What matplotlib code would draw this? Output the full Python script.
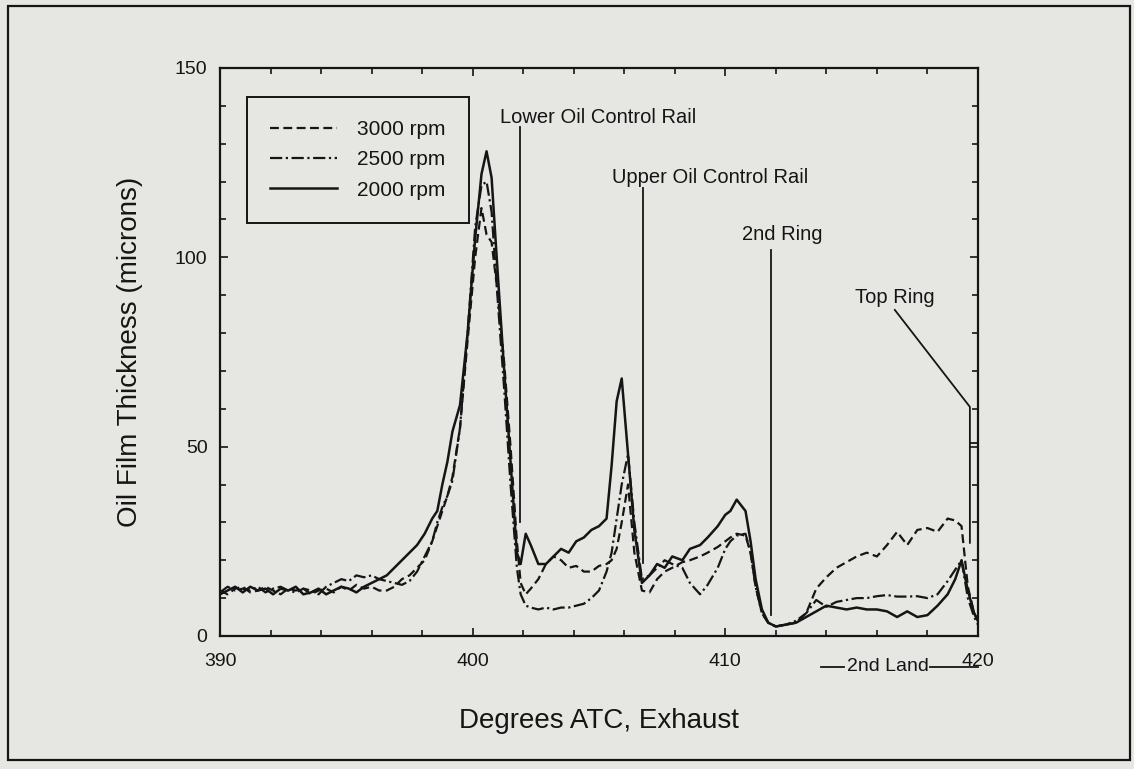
import matplotlib.pyplot as plt
from matplotlib.patches import Rectangle
from matplotlib.ticker import MultipleLocator

plt.rcParams['font.family'] = ['Liberation Sans', 'DejaVu Sans']

# crank angle grid (deg ATC) shared by the three traces
angle = [
    390.0, 390.3, 390.6, 390.9, 391.2, 391.5, 391.8, 392.1, 392.4, 392.7,
    393.0, 393.3, 393.6, 393.9, 394.2, 394.5, 394.8, 395.1, 395.4, 395.7,
    396.0, 396.3, 396.6, 396.9, 397.2, 397.5, 397.8, 398.1, 398.4, 398.6,
    398.8, 399.0, 399.2, 399.5, 399.8, 400.1, 400.35, 400.55, 400.75, 401.0,
    401.25, 401.5, 401.75, 401.9, 402.1, 402.3, 402.6, 402.9, 403.2, 403.5,
    403.8, 404.1, 404.4, 404.7, 405.0, 405.3, 405.5, 405.7, 405.9, 406.15,
    406.4, 406.7, 407.0, 407.3, 407.6, 407.9, 408.3, 408.6, 409.0, 409.3,
    409.7, 410.0, 410.2, 410.45, 410.8, 411.0, 411.2, 411.45, 411.7, 412.0,
    412.4, 412.8, 413.2, 413.6, 414.0, 414.4, 414.8, 415.2, 415.6, 416.0,
    416.4, 416.8, 417.2, 417.6, 418.0, 418.4, 418.8, 419.1, 419.35, 419.6,
    419.85, 420.0,
]

rpm_3000 = [
    12, 11, 12.5, 13, 11.5, 12, 13, 12, 11, 12.5,
    12, 12.5, 11, 12, 12.5, 11.5, 13, 12, 13.5, 12.5,
    13, 12, 12, 13, 15, 16, 18, 20, 25, 29,
    33, 37, 42, 55, 78, 100, 113, 106, 104, 90,
    72, 50, 25, 14, 11, 12.5, 15, 19, 21, 20,
    18, 18.5, 17, 17, 18.5, 19, 20, 23, 30, 40,
    22, 12, 11.5, 15, 17, 18, 19.5, 20, 21, 22,
    23.5, 25, 26, 27, 26.5, 22, 13, 6, 3.5, 2.5,
    3, 3.5, 6, 12.5, 15.5, 18, 19.5, 21, 22, 21,
    24, 27.5, 24, 28, 28.5, 27.5, 31, 30.5, 29, 13,
    6, 4,
]

rpm_2500 = [
    11.5, 13, 12, 12.5, 12, 13, 11.5, 12.5, 13, 12,
    11.5, 12.5, 12, 11, 13, 14, 15, 14.5, 16, 15.5,
    16, 15, 14.5, 14, 13.5, 14.5, 17, 21, 25, 30,
    34, 37, 41, 55, 80, 108, 119, 120, 112, 88,
    65, 40, 18, 11, 8, 7.5, 7, 7.5, 7, 7.5,
    7.5, 8, 8.5, 10, 12, 17, 22, 31, 40, 48,
    30, 15, 16, 18, 20, 19, 18, 14, 11, 13.5,
    18, 23, 25, 26.5, 27, 22, 13, 6, 3.5, 2.5,
    3, 4, 6, 9.5, 7.7, 9, 9.5, 10, 10, 10.5,
    10.8, 10.4, 10.4, 10.5, 10, 11, 14.5, 17.5, 20, 10,
    5, 3,
]

rpm_2000 = [
    11, 12, 13, 11.5, 13, 12, 12.5, 11, 12.5, 12,
    13, 11, 11.5, 12.5, 11, 12, 13, 12.5, 11.5, 13,
    14, 15, 16, 18, 20, 22, 24, 27, 31, 33,
    40, 46, 54, 61, 80, 105, 122, 128, 121, 95,
    70, 46, 22, 19, 27, 24, 19, 19, 21, 23,
    22, 25, 26, 28, 29, 31, 45, 62, 68, 48,
    28, 14, 16, 19, 18, 21, 20, 23, 24, 26,
    29, 32, 33, 36, 33, 25, 15, 7, 3.5, 2.5,
    3, 3.5, 5, 6.5, 8, 7.5, 7, 7.5, 7, 7,
    6.5, 5, 6.5, 5, 5.5, 8, 11, 15, 20, 12,
    6, 4,
]

series_labels = ['3000 rpm', '2500 rpm', '2000 rpm']


def main():
    bg = '#e6e6e3'
    ink = '#151515'

    fig = plt.figure(figsize=(11.34, 7.69), dpi=100, facecolor=bg)
    ax = fig.add_axes([0.194, 0.173, 0.6684, 0.7386])
    ax.set_facecolor(bg)

    ax.plot(angle, rpm_3000, color=ink, lw=1.6, ls=(0, (4, 2)), label=series_labels[0])
    ax.plot(angle, rpm_2500, color=ink, lw=1.6, ls=(0, (5.5, 1.6, 1.0, 1.6)), label=series_labels[1])
    ax.plot(angle, rpm_2000, color=ink, lw=1.8, ls='-', label=series_labels[2])

    ax.set_xlim(390, 420)
    ax.set_ylim(0, 150)
    ax.xaxis.set_major_locator(MultipleLocator(10))
    ax.xaxis.set_minor_locator(MultipleLocator(2))
    ax.yaxis.set_major_locator(MultipleLocator(50))
    ax.yaxis.set_minor_locator(MultipleLocator(10))
    ax.tick_params(which='both', direction='in', top=True, right=True,
                   color=ink, width=1.2)
    ax.tick_params(which='major', length=6, labelsize=14, labelcolor=ink)
    ax.tick_params(axis='y', which='major', pad=9)
    ax.tick_params(axis='x', which='major', pad=12)
    ax.tick_params(which='minor', length=4)
    for sp in ax.spines.values():
        sp.set_linewidth(1.6)
        sp.set_color(ink)

    ax.set_xlabel('Degrees ATC, Exhaust', fontsize=20, color=ink)
    ax.xaxis.set_label_coords(0.5, -0.15)
    ax.xaxis.label.set_va('center')
    ax.set_ylabel('Oil Film Thickness (microns)', fontsize=20, color=ink)
    ax.yaxis.set_label_coords(-0.119, 0.5)
    ax.yaxis.label.set_va('center')

    leg = ax.legend(loc='upper left', bbox_to_anchor=(0.0356, 0.949),
                    borderaxespad=0, fontsize=15, handlelength=3.2,
                    handletextpad=1.0, labelspacing=0.55, borderpad=1.1,
                    fancybox=False, framealpha=1, facecolor=bg,
                    edgecolor=ink)
    leg.get_frame().set_linewidth(1.4)
    for t in leg.get_texts():
        t.set_color(ink)

    # ring position markers
    lw_a = 1.3
    ax.text(401.08, 137, 'Lower Oil Control Rail', va='center', fontsize=14.5, color=ink)
    ax.plot([401.87, 401.87], [134.5, 30], color=ink, lw=lw_a)
    ax.text(405.51, 121.2, 'Upper Oil Control Rail', va='center', fontsize=14.5, color=ink)
    ax.plot([406.75, 406.75], [118.3, 19.3], color=ink, lw=lw_a)
    ax.text(413.86, 105.9, '2nd Ring', ha='right', va='center', fontsize=14.5, color=ink)
    ax.plot([411.8, 411.8], [102, 5.5], color=ink, lw=lw_a)
    ax.text(415.13, 89.5, 'Top Ring', va='center', fontsize=14.5, color=ink)
    ax.plot([416.71, 419.68, 419.68], [86.1, 60.5, 24.6], color=ink, lw=lw_a)
    ax.plot([419.68, 420], [51, 51], color=ink, lw=lw_a)

    # 2nd land span under the axis
    ax.plot([413.8, 414.7], [-8.1, -8.1], color=ink, lw=lw_a, clip_on=False)
    ax.text(414.8, -8.1, '2nd Land', va='center', fontsize=14, color=ink)
    ax.plot([418.1, 420.0], [-8.1, -8.1], color=ink, lw=lw_a, clip_on=False)

    # outer frame of the scanned figure
    fig.patches.append(Rectangle((0.007, 0.0117), 0.9894, 0.9805,
                                 transform=fig.transFigure, fill=False,
                                 edgecolor=ink, lw=1.6))

    fig.savefig('out.png', dpi=100, facecolor=bg)


if __name__ == '__main__':
    main()
